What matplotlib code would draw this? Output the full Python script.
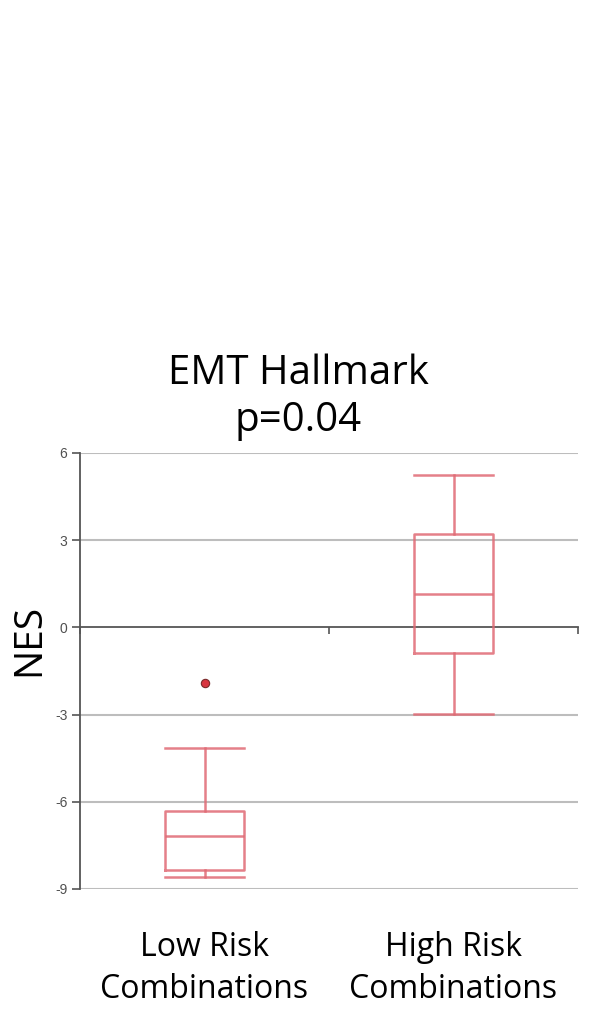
import matplotlib.pyplot as plt
import matplotlib.transforms as mtransforms

# box statistics (NES values)
groups = ["Low Risk\nCombinations", "High Risk\nCombinations"]
whisker_low = [-8.6, -2.99]
q1 = [-8.36, -0.89]
median = [-7.16, 1.14]
q3 = [-6.33, 3.2]
whisker_high = [-4.16, 5.26]
outliers = [[-1.93], []]
y_ticks = [-9, -6, -3, 0, 3, 6]

plt.rcParams['font.family'] = ['Open Sans', 'DejaVu Sans']

fig = plt.figure(figsize=(5.89, 10.10), dpi=100)
ax = fig.add_axes([80 / 589, 1 - 889 / 1010, 498 / 589, 436 / 1010])

box_color = '#e06a74'
grid_color = '#bdbdbd'
axis_color = '#555555'

stats = []
for i in range(len(groups)):
    stats.append(dict(med=median[i], q1=q1[i], q3=q3[i],
                      whislo=whisker_low[i], whishi=whisker_high[i],
                      fliers=outliers[i]))

positions = [0.5, 1.5]
line_kw = dict(color=box_color, lw=1.8, alpha=0.85)
ax.bxp(stats, positions=positions, widths=0.317, showfliers=True,
       boxprops=line_kw, medianprops=line_kw, whiskerprops=line_kw,
       capprops=line_kw, capwidths=0.317,
       flierprops=dict(marker='o', markersize=6, markerfacecolor='#d8343f',
                       markeredgecolor='#7a2a2a', markeredgewidth=0.8))

# horizontal grid lines
for yv in y_ticks:
    if yv != 0:
        ax.axhline(yv, color=grid_color, lw=1.5, zorder=0)

ax.set_xlim(0, 2)
ax.set_ylim(-9, 6)

for s in ['top', 'right']:
    ax.spines[s].set_visible(False)
ax.spines['left'].set_color(axis_color)
ax.spines['left'].set_linewidth(1.3)
ax.spines['bottom'].set_position(('data', 0))
ax.spines['bottom'].set_color(axis_color)
ax.spines['bottom'].set_linewidth(1.3)
ax.spines['bottom'].set_zorder(0.5)

ax.set_xticks([0, 1, 2])
ax.set_xticklabels([])
ax.tick_params(axis='x', direction='out', length=5, color=axis_color, width=1.2)
ax.set_yticks(y_ticks)
ax.set_yticklabels([str(v) for v in y_ticks], family='Liberation Sans',
                   fontsize=10, color='#505050')
ax.tick_params(axis='y', direction='out', length=6, color=axis_color, width=1.2, pad=3)

# category labels under the plot
trans = mtransforms.blended_transform_factory(ax.transData, fig.transFigure)
for x, lab in zip(positions, groups):
    ax.text(x, 1 - 931 / 1010, lab, transform=trans, ha='center', va='top',
            fontsize=23, linespacing=1.38, color='black')

fig.text(298 / 589, 1 - 397 / 1010, "EMT Hallmark\np=0.04", ha='center', va='center',
         fontsize=29, linespacing=1.2, color='black')
fig.text(29 / 589, 1 - 640 / 1010, "NES", rotation=90, ha='center', va='center',
         fontsize=28, color='black')

fig.savefig('out.png', dpi=100)
